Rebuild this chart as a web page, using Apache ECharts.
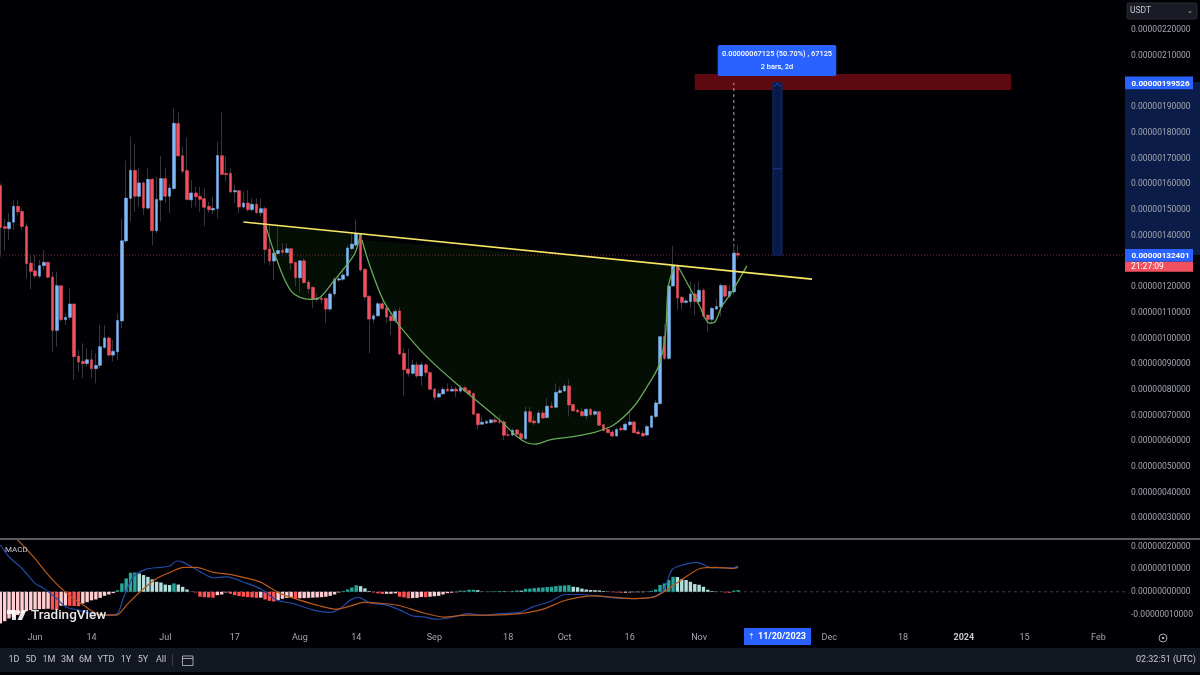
<!DOCTYPE html>
<html><head><meta charset="utf-8">
<style>html,body{margin:0;padding:0;background:#000005}#c{width:1200px;height:675px}</style>
<script src="https://cdn.jsdelivr.net/npm/echarts@6/dist/echarts.min.js"></script>
</head><body><div id="c"></div>
<script>
// prices in units of 1e-8 USDT; x = trading day index (day 0 = 24 May 2023)
const open=[159.4,143.5,142.7,145.2,151.4,149.4,143.6,129.3,126.3,124.2,
128.3,129.6,123.9,103.1,120.5,107.3,108.2,113.4,93.1,91.1,
90.2,91.7,88.2,89.5,96.5,100.2,93.5,94.8,106.8,137.9,
154.5,165.4,155.3,160.5,150.7,161.9,141.9,153.8,162.2,155.3,
158.3,183.6,171.1,165.3,153.9,156.6,155.3,154.4,151.4,150.0,
150.5,171.1,164.2,164.2,157.0,157.5,151.1,152.7,150.1,152.2,
148.9,150.5,134.8,130.1,133.0,134.3,133.4,134.9,129.6,123.6,
130.2,121.9,119.9,115.2,115.6,115.6,111.4,117.3,122.7,123.0,
124.4,134.9,136.3,140.7,126.9,116.4,107.5,108.8,113.5,111.8,
108.6,106.9,110.7,94.2,88.1,86.4,89.7,85.4,89.7,86.7,
80.3,77.2,78.4,80.3,79.5,80.3,79.5,80.8,79.7,78.6,
70.7,66.6,67.0,67.2,68.3,67.7,67.5,62.5,62.4,64.4,
62.9,61.0,71.5,67.9,67.2,71.0,69.2,73.7,73.2,78.9,
79.5,81.5,74.3,72.1,71.5,69.9,72.4,70.5,71.5,66.4,
64.6,63.6,62.0,65.0,64.4,66.4,67.5,63.6,63.1,62.4,
65.4,69.6,74.6,100.7,92.2,120.4,128.3,116.0,114.0,114.3,
117.3,114.3,118.7,109.1,107.4,111.4,112.2,120.6,116.4,118.1,133.1];
const close=[143.2,142.8,145.2,151.4,149.3,143.5,129.1,126.1,124.3,128.3,
129.6,123.8,103.1,120.5,107.3,108.2,113.4,92.9,90.8,90.2,
91.7,88.2,89.5,96.8,100.2,93.5,95.0,107.0,138.0,154.6,
165.4,155.3,160.5,150.7,161.9,141.9,154.1,162.2,155.3,158.5,
183.7,171.0,165.0,154.0,156.6,155.1,154.1,151.0,150.0,150.6,
171.2,163.8,163.7,157.0,157.5,151.1,152.7,150.1,152.2,148.9,
150.5,134.6,130.1,133.2,134.2,133.5,134.9,129.3,123.6,130.2,
121.7,119.3,115.2,115.6,115.1,111.4,117.3,123.0,123.2,124.7,
135.2,136.7,140.7,126.6,116.1,107.5,108.8,113.5,111.6,108.3,
106.9,110.5,93.9,87.8,86.4,89.7,85.4,89.7,86.7,80.2,
77.1,78.5,80.2,79.5,80.2,79.5,80.8,79.5,78.4,70.5,
66.4,67.4,67.7,68.3,67.5,67.4,62.3,62.3,64.2,62.7,
61.0,71.5,67.5,67.1,71.0,69.0,73.6,73.1,79.0,79.7,
81.5,74.1,71.8,71.4,69.9,72.4,70.3,71.5,66.2,64.2,
63.3,62.0,64.6,64.4,66.6,67.5,63.3,62.9,62.0,65.7,
69.8,74.9,100.7,92.2,120.4,128.3,115.7,114.0,114.6,117.3,
114.3,118.7,108.7,107.4,111.7,112.4,120.6,116.4,118.3,133.2,132.4];
const low=[131.8,134.4,138.3,142.2,148.0,142.2,123.4,119.1,123.4,123.4,
126.6,123.4,94.8,96.8,106.5,105.2,107.2,83.8,87.1,84.5,
89.0,84.5,82.5,88.3,96.1,92.9,91.0,91.6,103.9,137.0,
145.4,149.3,151.3,148.0,150.0,136.3,140.9,145.4,152.6,148.9,
157.7,170.7,164.2,153.9,150.6,151.3,149.3,143.7,148.9,148.4,
146.7,163.6,161.0,156.4,152.6,148.7,150.6,149.3,149.3,148.4,
147.4,129.2,128.6,122.7,132.4,131.8,133.1,126.6,120.1,117.8,
121.4,117.5,111.7,114.3,113.6,105.9,110.4,116.2,122.1,122.1,
124.0,134.4,135.7,126.0,114.9,94.2,105.9,108.4,111.0,105.9,
101.3,105.9,93.5,77.7,85.1,85.8,84.5,81.5,85.1,79.9,
75.8,76.7,78.0,79.3,79.3,77.3,78.6,79.3,78.0,70.2,
64.6,66.3,66.7,67.0,67.0,66.7,60.5,61.8,61.8,61.8,
60.5,60.5,67.0,66.3,66.7,68.8,68.8,72.8,72.8,78.4,
79.3,69.6,71.5,71.1,69.6,68.5,69.6,69.6,65.9,63.7,
63.1,61.5,61.8,64.1,64.1,65.9,63.1,62.4,61.8,61.8,
65.0,68.9,74.1,91.6,91.6,120.1,111.1,111.1,113.6,111.7,
109.1,113.6,107.8,102.6,105.9,111.1,108.5,115.6,116.0,116.9,131.2];
const high=[160.3,146.7,148.7,153.8,153.8,150.6,144.8,132.4,132.4,130.5,
134.4,129.9,126.0,126.0,120.8,109.8,119.5,113.6,95.5,98.1,
96.1,95.5,94.2,105.2,105.2,100.7,99.4,109.8,146.7,169.2,
178.5,175.5,166.2,161.0,166.2,162.3,162.9,171.0,166.2,160.3,
189.5,188.0,174.6,178.2,161.6,159.0,159.0,158.4,153.2,155.1,
176.5,188.0,171.0,166.2,159.7,157.7,157.1,157.7,154.5,154.5,
154.5,151.3,144.1,134.4,143.5,137.0,137.0,135.0,129.9,130.5,
131.2,122.7,120.1,117.5,116.5,116.2,118.2,124.0,124.7,127.3,
136.3,140.9,146.3,140.9,127.3,116.9,109.8,114.3,114.3,112.4,
109.8,111.7,112.1,96.1,96.1,91.6,91.0,91.0,90.3,87.1,
80.6,79.9,81.2,82.5,81.6,81.2,81.9,81.6,79.9,78.9,
70.8,69.6,68.3,68.9,69.6,70.2,68.3,64.4,65.0,64.6,
63.7,73.4,73.4,69.6,72.1,72.1,76.7,75.4,82.5,81.2,
82.5,84.1,74.7,72.8,72.8,72.8,72.8,72.1,71.8,66.7,
65.7,64.4,65.4,65.9,67.6,71.5,67.9,64.6,64.1,66.3,
70.2,76.0,100.7,105.6,120.8,136.0,128.6,116.5,115.6,122.1,
121.4,122.1,119.5,109.4,112.4,115.6,121.4,120.9,120.8,136.3,136.3];
const macdHist=[-14.0,-13.0,-11.8,-11.1,-10.3,-9.6,-8.6,-8.1,-7.8,-7.7,
-7.6,-7.5,-7.9,-8.0,-6.2,-6.1,-6.2,-6.3,-6.4,-5.2,
-4.6,-3.8,-3.4,-2.7,-1.8,-1.2,-0.6,0.7,3.7,5.9,
8.4,8.5,8.1,7.4,6.6,5.5,4.4,4.1,3.2,3.0,
3.7,3.2,2.2,1.0,0.1,-0.3,-2.2,-2.4,-2.5,-2.6,
-1.5,-1.2,-0.3,-0.9,-1.5,-1.9,-2.2,-2.4,-2.5,-2.7,
-2.6,-3.4,-4.0,-4.3,-3.7,-3.1,-2.7,-2.6,-3.2,-2.9,
-2.8,-2.7,-2.6,-2.5,-2.4,-2.2,-1.8,-1.2,-0.3,0.3,
1.0,1.9,2.9,2.5,1.5,0.3,-0.3,-0.7,-0.9,-0.9,
-0.9,-0.7,-2.2,-2.5,-2.9,-2.8,-2.7,-2.3,-2.4,-2.2,
-2.0,-1.8,-1.2,-0.6,-0.4,-0.2,0.5,0.5,0.9,0.9,
0.7,0.1,0.1,0.2,0.2,0.3,0.2,0.1,0.4,0.6,
0.5,1.3,1.4,1.6,1.8,1.9,2.1,2.2,2.5,2.7,
2.8,2.9,2.2,2.0,1.4,1.0,0.8,0.7,0.6,0.3,
0.1,-0.2,-0.3,-0.4,-0.4,-0.3,-0.2,-0.2,-0.2,-0.1,
0.4,1.0,3.0,3.7,5.2,6.6,6.5,5.6,5.2,4.4,
3.4,3.1,2.2,0.9,0.3,0.1,0.05,-0.3,-0.4,0.5,0.7];
const macdLine=[[0,20.7],[2,15.5],[5,10.3],[8,3.7],[10,1.5],[13,-3.0],[15,-6.6],[18,-8.1],[21,-9.6],[24.5,-10.3],[27,-9.6],[28.3,-3.0],[30.6,6.6],[33.7,10.0],[36.8,10.8],[39.1,11.4],[40.6,13.6],[42.2,13.0],[46,8.9],[49,6.2],[52.2,6.6],[56.8,3.7],[59.8,1.5],[61.4,-0.7],[63.7,-3.7],[67.5,-5.2],[72.1,-8.1],[76,-9.1],[78.3,-7.4],[80.6,-3.7],[82.5,-2.5],[85.2,-4.9],[89,-5.9],[92.1,-8.1],[95.2,-10.8],[97.5,-11.1],[100.5,-12.2],[103.6,-11.5],[107.8,-9.7],[111.3,-10.5],[115.1,-9.7],[119.7,-9.1],[122.8,-6.6],[126.6,-4.4],[130.1,-1.2],[133.6,-1.2],[137.4,-1.8],[141.2,-2.7],[145.9,-3.0],[150.5,-2.2],[152.8,0.7],[154.7,9.6],[156.6,11.5],[160.5,13.0],[163.9,10.6],[168.9,10.6],[170,11.5]];
const signalLine=[[3.8,23.3],[7.6,15.5],[11.4,6.6],[15.3,-0.7],[19.1,-5.9],[23,-10.3],[26.8,-10.3],[29.1,-5.9],[32.2,0],[36,5.9],[39.1,8.6],[42.2,10.8],[45.2,10.8],[49.1,8.6],[53.7,7.4],[59.8,4.4],[64.4,-0.7],[69,-3.7],[73.7,-6.3],[77.5,-7.7],[81.3,-5.9],[83.6,-4.7],[88.2,-5.2],[92.1,-6.2],[96.7,-8.9],[102.1,-11.2],[107.5,-10.3],[113.6,-10.3],[119.7,-9.7],[125.1,-7.7],[129.7,-4.1],[133.6,-2.4],[136.6,-1.8],[141.2,-2.4],[145.9,-3.0],[150.5,-2.4],[153.5,0.7],[157.4,5.9],[161.2,10.3],[165,10.8],[168.9,10.3],[170,10.8]];
const trendLine=[[56,145.3],[187,123.1]];
const cupFirst=[[61.1,144.1],[62.9,134.4],[65.2,124.0],[67.1,118.2],[69,116.0],[71.4,115.2],[73.7,116.0],[76.7,122.1],[79.8,128.5],[81.7,133.1],[83,140.6]];
const cupMain=[[83.3,138.3],[85.2,127.9],[88.2,114.9],[90.6,108.4],[92.1,104.6],[98.2,92.9],[105.9,81.2],[115.1,68.2],[119,61.8],[121.3,59.4],[123.2,58.9],[126.6,60.5],[132,61.8],[136.6,63.3],[141.3,66.3],[145.9,73.4],[149,81.2],[151.6,89.0],[153.2,100.7],[153.9,120.1],[155.4,128.6]];
const cupHandle=[[156.2,127.9],[158.9,119.5],[161.2,112.4],[162.4,107.8],[163.5,105.9],[164.7,106.5],[166.2,112.4],[168.1,116.9],[169.7,121.4],[172,128.2]];
const targetZone=[[160,232.9,196.65,202.9]];
const rulerBar=[[178,180.1,132.4,199.5]];
const rulerMid=166;
const lastPrice=132.4;
const targetPrice=199.526;
const priceTicks=[220,210,190,180,170,160,150,140,120,110,100,90,80,70,60,50,40,30];
const macdTicks=[20,10,0,-10];
const dateTickPos=[8,21,38,54,69,82,100,117,130,145,161,191,208,222,236,253];
const dateTickLabels=['Jun','14','Jul','17','Aug','14','Sep','18','Oct','16','Nov','Dec','18','2024','15','Feb'];
const rangeButtons=['1D','5D','1M','3M','6M','YTD','1Y','5Y','All'];
const rangeButtonX=[14,31,49,67.5,85.5,106,126,143,161];

const FONT='Roboto, sans-serif', AX='#a3a6af';
const UP='#7fb9f6', DOWN='#f2505f', WICK='#36373c', GREEN='#66ab58';
const xMin=-0.08, xMax=259.13;
const ohlc=open.map((o,i)=>[i,o,close[i],low[i],high[i]]);
const bodies=open.map((o,i)=>[i,o,close[i],Math.min(o,close[i]),Math.max(o,close[i])]);
const histColor=i=>{const v=macdHist[i],p=i?macdHist[i-1]:v;return v>=0?(v>=p?'#26a69a':'#b2dfdb'):(v<p?'#ff5252':'#ffcdd2');};
const fmt=u=>(u*1e-8).toFixed(11);

function polyRender(points){return function(params,api){
  if(params.dataIndex!==0)return;
  return {type:'polygon',shape:{points:points.map(p=>api.coord(p))},style:{fill:'#040e04'}};
};}
function polySeries(points){return {type:'custom',name:'cup fill',xAxisIndex:0,yAxisIndex:0,clip:true,silent:true,z:1,data:points,encode:{x:0,y:1},renderItem:polyRender(points)};}
function rectPts(api,d){const a=api.coord([d[0],d[3]]),b=api.coord([d[1],d[2]]);return {x:a[0],y:a[1],width:b[0]-a[0],height:b[1]-a[1]};}

const option={
 backgroundColor:'#000005',animation:false,
 grid:[{left:0,right:75,top:0,height:538},{left:0,right:75,top:540,height:85}],
 xAxis:[
  {type:'value',gridIndex:0,min:xMin,max:xMax,show:false,splitLine:{show:false}},
  {type:'value',gridIndex:1,min:xMin,max:xMax,splitLine:{show:false},axisLine:{show:false},axisTick:{show:false},
   axisLabel:{customValues:dateTickPos,margin:8,color:AX,fontSize:9,fontFamily:FONT,hideOverlap:false,
     formatter:v=>{const l=dateTickLabels[dateTickPos.indexOf(v)];return l==='2024'?'{b|2024}':l;},
     rich:{b:{fontWeight:'bold',color:'#c8cad0',fontSize:9,fontFamily:FONT}}}}
 ],
 yAxis:[
  {type:'value',gridIndex:0,position:'right',min:22.34,max:231.67,splitLine:{show:false},axisLine:{show:false},axisTick:{show:false},
   axisLabel:{customValues:priceTicks,margin:6,padding:[2,0,0,0],color:AX,fontSize:8.5,fontFamily:FONT,formatter:fmt,hideOverlap:false}},
  {type:'value',gridIndex:1,position:'right',min:-14.7,max:22.9,splitLine:{show:false},axisLine:{show:false},axisTick:{show:false},
   axisLabel:{customValues:macdTicks,margin:6,padding:[2,0,0,0],color:AX,fontSize:8.5,fontFamily:FONT,formatter:fmt,hideOverlap:false}}
 ],
 series:[
  {type:'custom',name:'target zone',xAxisIndex:0,yAxisIndex:0,silent:true,z:1,data:targetZone,encode:{x:[0,1],y:[2,3]},
   renderItem:(p,api)=>({type:'rect',shape:rectPts(api,targetZone[p.dataIndex]),style:{fill:'#5e0a10'}})},
  polySeries(cupFirst),polySeries(cupMain),
  {type:'line',name:'last price',xAxisIndex:0,yAxisIndex:0,silent:true,z:2,symbol:'none',data:[[xMin,lastPrice],[xMax,lastPrice]],lineStyle:{color:'#7a2a30',width:1,type:[1,2]}},
  {type:'custom',name:'ruler',xAxisIndex:0,yAxisIndex:0,silent:true,z:3,data:rulerBar,encode:{x:[0,1],y:[2,3]},
   renderItem:(p,api)=>{const r=rectPts(api,rulerBar[p.dataIndex]);const m=api.coord([rulerBar[0][0],rulerMid]);
    return {type:'group',children:[
     {type:'rect',shape:r,style:{fill:'#0a1b4e',stroke:'#11296e',lineWidth:1}},
     {type:'rect',shape:{x:r.x+2.5,y:r.y,width:r.width-5,height:r.height},style:{fill:'#091845'}},
     {type:'rect',shape:{x:r.x,y:m[1]-0.5,width:r.width,height:1},style:{fill:'#1c3a8a'}},
     {type:'polyline',shape:{points:[[r.x+1.5,r.y+4],[r.x+r.width/2,r.y+0.5],[r.x+r.width-1.5,r.y+4]]},style:{stroke:'#2a50b0',fill:'none',lineWidth:1}}
    ]};}},
  {type:'line',name:'measure',xAxisIndex:0,yAxisIndex:0,silent:true,z:3,symbol:'none',data:[[169,133.2],[169,199.5]],lineStyle:{color:'#a9abb0',width:1,type:[3,3]}},
  {type:'candlestick',name:'wicks',xAxisIndex:0,yAxisIndex:0,silent:true,z:4,barWidth:1,data:ohlc,
   itemStyle:{color:WICK,color0:WICK,borderColor:WICK,borderColor0:WICK,borderWidth:1}},
  {type:'candlestick',name:'price',xAxisIndex:0,yAxisIndex:0,silent:true,z:5,barWidth:3.2,data:bodies,
   itemStyle:{color:UP,color0:DOWN,borderColor:UP,borderColor0:DOWN,borderWidth:0.5}},
  {type:'line',name:'cup curve',xAxisIndex:0,yAxisIndex:0,silent:true,z:6,symbol:'none',smooth:0.3,data:cupFirst,lineStyle:{color:GREEN,width:1.3}},
  {type:'line',name:'cup curve',xAxisIndex:0,yAxisIndex:0,silent:true,z:6,symbol:'none',smooth:0.3,data:cupMain,lineStyle:{color:GREEN,width:1.3}},
  {type:'line',name:'cup handle',xAxisIndex:0,yAxisIndex:0,silent:true,z:6,symbol:'none',smooth:0.3,data:cupHandle,lineStyle:{color:GREEN,width:1.3}},
  {type:'line',name:'neckline',xAxisIndex:0,yAxisIndex:0,silent:true,z:7,symbol:'none',data:trendLine,lineStyle:{color:'#f7e765',width:1.7}},
  {type:'line',name:'zero',xAxisIndex:1,yAxisIndex:1,silent:true,z:1,symbol:'none',data:[[xMin,0],[xMax,0]],lineStyle:{color:'#3a3b40',width:1,type:[3,3]}},
  {type:'bar',name:'histogram',xAxisIndex:1,yAxisIndex:1,silent:true,z:2,barWidth:3.4,data:macdHist.map((v,i)=>[i,v]),
   itemStyle:{color:p=>histColor(p.dataIndex)}},
  {type:'line',name:'MACD',xAxisIndex:1,yAxisIndex:1,silent:true,z:4,symbol:'none',smooth:0.25,data:macdLine,lineStyle:{color:'#2349a8',width:1.2}},
  {type:'line',name:'Signal',xAxisIndex:1,yAxisIndex:1,silent:true,z:4,symbol:'none',smooth:0.25,data:signalLine,lineStyle:{color:'#b85a1c',width:1.2}}
 ],
 graphic:[
  {type:'rect',z:-1,shape:{x:1125,y:82,width:75,height:173},style:{fill:'#0b1c49'},silent:true},
  {type:'rect',z:40,shape:{x:0,y:538,width:1200,height:2},style:{fill:'#5a5b60'},silent:true},
  // toolbar
  {type:'rect',z:40,shape:{x:0,y:648,width:1200,height:24},style:{fill:'#131722'},silent:true},
  ...rangeButtons.map((t,i)=>({type:'text',z:41,x:rangeButtonX[i],y:660,style:{text:t,fill:'#c4c6cc',font:'9px '+FONT,textAlign:'center',textVerticalAlign:'middle'}})),
  {type:'rect',z:41,shape:{x:172,y:654,width:1,height:12},style:{fill:'#3a3d47'}},
  {type:'rect',z:41,shape:{x:182.5,y:656,width:10.5,height:9.5},style:{fill:'none',stroke:'#c4c6cc',lineWidth:0.8}},
  {type:'rect',z:41,shape:{x:182.5,y:658,width:10.5,height:0.8},style:{fill:'#c4c6cc'}},
  {type:'text',z:41,x:1196,y:660,style:{text:'02:32:51 (UTC)',fill:'#c4c6cc',font:'9px '+FONT,textAlign:'right',textVerticalAlign:'middle'}},
  // price axis chrome
  {type:'rect',z:41,shape:{x:1127,y:3,width:70,height:16,r:2},style:{fill:'#191c25',stroke:'#2a2d37',lineWidth:1}},
  {type:'text',z:42,x:1130,y:11,style:{text:'USDT',fill:'#c4c6cc',font:'8.5px '+FONT,textVerticalAlign:'middle'}},
  {type:'text',z:42,x:1193,y:11,style:{text:'⌄',fill:'#c4c6cc',font:'7px '+FONT,textAlign:'right',textVerticalAlign:'middle'}},
  {type:'rect',z:41,shape:{x:1125,y:76.5,width:68,height:12.7},style:{fill:'#2962ff'}},
  {type:'text',z:42,x:1160.5,y:83.5,style:{text:fmt(targetPrice),fill:'#fff',font:'bold 8.1px '+FONT,textAlign:'center',textVerticalAlign:'middle'}},
  {type:'rect',z:41,shape:{x:1125,y:249,width:68,height:12.7},style:{fill:'#2962ff'}},
  {type:'text',z:42,x:1160.5,y:256,style:{text:fmt(lastPrice+0.001),fill:'#fff',font:'bold 8.1px '+FONT,textAlign:'center',textVerticalAlign:'middle'}},
  {type:'rect',z:41,shape:{x:1125,y:261.7,width:68,height:10},style:{fill:'#f2505f'}},
  {type:'text',z:42,x:1131,y:266.7,style:{text:'21:27:09',fill:'#fff',font:'8.5px '+FONT,textVerticalAlign:'middle'}},
  // measure label
  {type:'rect',z:41,shape:{x:717.7,y:45,width:118.6,height:31,r:2},style:{fill:'#2962ff'}},
  {type:'text',z:42,x:777,y:54,style:{text:'0.00000067125 (50.70%) , 67125',fill:'#fff',font:'500 7.4px '+FONT,textAlign:'center',textVerticalAlign:'middle'}},
  {type:'text',z:42,x:777,y:67,style:{text:'2 bars, 2d',fill:'#fff',font:'500 7.4px '+FONT,textAlign:'center',textVerticalAlign:'middle'}},
  // date cursor
  {type:'rect',z:41,shape:{x:744,y:628,width:67,height:17},style:{fill:'#2962ff'}},
  {type:'text',z:42,x:751,y:636.5,style:{text:'⇡',fill:'#fff',font:'8px '+FONT,textAlign:'center',textVerticalAlign:'middle'}},
  {type:'text',z:42,x:782,y:636.5,style:{text:'11/20/2023',fill:'#fff',font:'bold 9px '+FONT,textAlign:'center',textVerticalAlign:'middle'}},
  // MACD title + watermark
  {type:'text',z:42,x:5,y:550,style:{text:'MACD',fill:'#c4c6cc',font:'8px '+FONT,textVerticalAlign:'middle'}},
  {type:'polygon',z:42,shape:{points:[[7,610],[16,610],[16,620],[12,620],[12,614],[7,614]]},style:{fill:'#fff',opacity:0.9}},
  {type:'circle',z:42,shape:{cx:18.5,cy:612,r:1.8},style:{fill:'#fff',opacity:0.9}},
  {type:'polygon',z:42,shape:{points:[[22,610],[26.5,610],[22,620],[17.5,620]]},style:{fill:'#fff',opacity:0.9}},
  {type:'text',z:42,x:31,y:616,style:{text:'TradingView',fill:'#fff',opacity:0.9,font:'500 13.5px '+FONT,textVerticalAlign:'middle'}},
  // settings glyph
  {type:'circle',z:42,shape:{cx:1163,cy:638,r:4},style:{fill:'none',stroke:'#a3a6af',lineWidth:1}},
  {type:'circle',z:42,shape:{cx:1163,cy:638,r:1.3},style:{fill:'#a3a6af'}}
 ]
};
echarts.init(document.getElementById('c'),null,{renderer:'canvas'}).setOption(option);
</script></body></html>
